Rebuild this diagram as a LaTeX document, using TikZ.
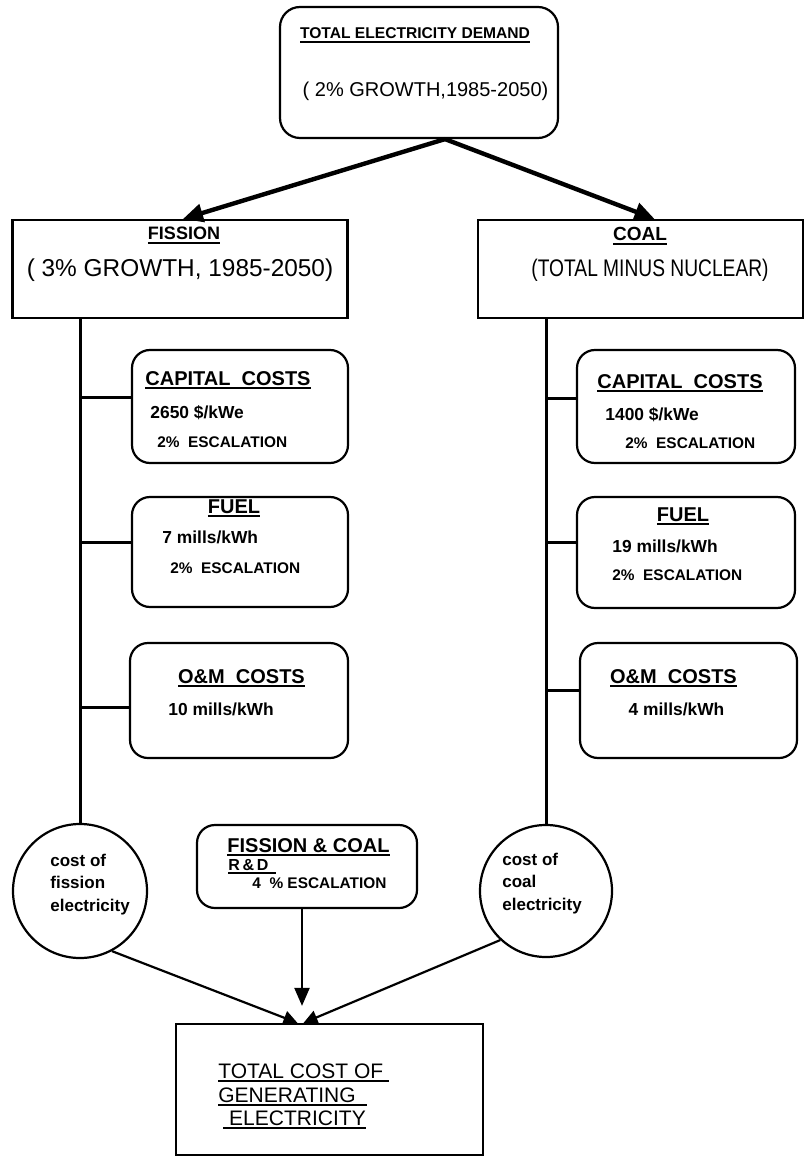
\documentclass[tikz,border=0pt]{standalone}
\usepackage{fontspec}
\setmainfont{Liberation Sans}
\newfontfamily\narrowfont[FakeStretch=0.8]{Liberation Sans}
\usetikzlibrary{arrows.meta}
\newsavebox\ulbox
\newcommand{\ulin}[1]{\sbox\ulbox{#1}\rlap{\rule[-1.8pt]{\wd\ulbox}{0.85pt}}\usebox\ulbox}
\newcommand{\fsz}[1]{\fontsize{#1}{#1}\selectfont}
\begin{document}
\begin{tikzpicture}[x=0.5pt,y=-0.5pt,
  rbox/.style={draw, line width=1.1pt, rounded corners=9pt, inner sep=0pt},
  sqbox/.style={draw, line width=1.1pt, inner sep=0pt},
  circ/.style={draw, line width=1.1pt, circle, inner sep=0pt, minimum size=67pt},
  txt/.style={inner sep=0pt, anchor=base west},
  ctxt/.style={inner sep=0pt, anchor=base},
  hd/.style={font=\fsz{10pt}\bfseries},
  val/.style={font=\fsz{8.7pt}\bfseries},
  esc/.style={font=\fsz{7.7pt}\bfseries},
  ctx/.style={font=\fsz{8.5pt}\bfseries},
  trunk/.style={line width=1.5pt},
  bigarr/.style={line width=2.2pt, -{Triangle[length=10pt,width=9pt]}},
  arr/.style={line width=1.1pt, -{Triangle[length=7pt,width=7pt]}},
]
\useasboundingbox (0,0) rectangle (805,1160);

% boxes
\node[rbox, rounded corners=10pt, minimum width=139pt, minimum height=65.5pt] (top) at (419,72.5) {};
\node[sqbox, minimum width=167.5pt, minimum height=49pt] (fis) at (180,269) {};
\node[sqbox, minimum width=162.5pt, minimum height=49pt] (coal) at (640.5,269) {};
\node[rbox, minimum width=108pt, minimum height=56.5pt] (capF) at (240,406.5) {};
\node[rbox, minimum width=108pt, minimum height=55pt] (fuelF) at (240,552) {};
\node[rbox, minimum width=109pt, minimum height=57.5pt] (omF) at (239,700.5) {};
\node[rbox, minimum width=109pt, minimum height=56.5pt] (capC) at (686,406.5) {};
\node[rbox, minimum width=109pt, minimum height=55.5pt] (fuelC) at (686,552.5) {};
\node[rbox, minimum width=108.5pt, minimum height=57.5pt] (omC) at (688.5,700.5) {};
\node[circ] (cirF) at (80,891) {};
\node[circ, minimum size=66pt] (cirC) at (546,891) {};
\node[rbox, minimum width=110pt, minimum height=41.5pt] (rd) at (307,866.5) {};
\node[sqbox, minimum width=153.5pt, minimum height=65.5pt] (tot) at (329.5,1089.5) {};

% top arrows
\coordinate (apex) at ([xshift=13pt]top.south);
\draw[bigarr] (apex) -- ([xshift=1.5pt]fis.north);
\draw[bigarr] (apex) -- ([xshift=7pt]coal.north);

% trunks
\draw[trunk] (fis.south -| cirF.north) -- (cirF.north);
\draw[trunk] (coal.south -| cirC.north) -- (cirC.north);

% branches
\coordinate (bF1) at ([yshift=4.75pt]capF.west);
\coordinate (bF2) at ([yshift=5pt]fuelF.west);
\coordinate (bF3) at ([yshift=-3.25pt]omF.west);
\coordinate (bC1) at ([yshift=4.25pt]capC.west);
\coordinate (bC2) at ([yshift=5.25pt]fuelC.west);
\coordinate (bC3) at ([yshift=5.25pt]omC.west);
\draw[trunk] (bF1 -| cirF.north) -- (bF1);
\draw[trunk] (bF2 -| cirF.north) -- (bF2);
\draw[trunk] (bF3 -| cirF.north) -- (bF3);
\draw[trunk] (bC1 -| cirC.north) -- (bC1);
\draw[trunk] (bC2 -| cirC.north) -- (bC2);
\draw[trunk] (bC3 -| cirC.north) -- (bC3);

% bottom arrows
\coordinate (tL) at ([xshift=-16pt]tot.north);
\coordinate (tR) at ([xshift=-13pt]tot.north);
\draw[arr] (cirF.-62) -- (tL);
\draw[arr] (cirC.-133) -- (tR);
\coordinate (rdb) at ([xshift=-2.5pt]rd.south);
\draw[line width=1.1pt, -{Triangle[length=9pt,width=7.5pt]}, shorten >=8.5pt] (rdb) -- (rdb |- tot.north);

% texts: top
\node[ctxt] (t1) at (415,39) {\fsz{7.8pt}\bfseries\ulin{TOTAL ELECTRICITY DEMAND}};
\node[ctxt] (t2) at (425.5,97) {\fsz{10pt}( 2\% GROWTH,1985-2050)};
% fission / coal
\node[ctxt] (f1) at (184,240) {\fsz{9pt}\bfseries\ulin{FISSION}};
\node[ctxt] (f2) at (180,277) {\fsz{12.2pt}( 3\% GROWTH, 1985-2050)};
\node[ctxt] (c1) at (640,241) {\fsz{9.5pt}\bfseries\ulin{COAL}};
\node[ctxt] (c2) at (650,277) {\fsz{12pt}\narrowfont (TOTAL MINUS NUCLEAR)};
% fission side
\node[txt, hd] (cf1) at (145,385) {\ulin{CAPITAL\ \ COSTS}};
\node[txt, val] (cf2) at (150,418) {2650 \$/kWe};
\node[txt, esc] (cf3) at (157,447) {2\%\ \ ESCALATION};
\node[ctxt, hd] (ff1) at (234,513) {\ulin{FUEL}};
\node[txt, val] (ff2) at (162,543) {7 mills/kWh};
\node[txt, esc] (ff3) at (170,573) {2\%\ \ ESCALATION};
\node[ctxt, hd] (of1) at (241.5,683) {\ulin{O\&M\ \ COSTS}};
\node[txt, val] (of2) at (168,715) {10 mills/kWh};
% coal side
\node[txt, hd] (cc1) at (597,388) {\ulin{CAPITAL\ \ COSTS}};
\node[txt, val] (cc2) at (605,420) {1400 \$/kWe};
\node[txt, esc] (cc3) at (625,448) {2\%\ \ ESCALATION};
\node[ctxt, hd] (fc1) at (683,521) {\ulin{FUEL}};
\node[txt, val] (fc2) at (612,552) {19 mills/kWh};
\node[txt, esc] (fc3) at (612,580) {2\%\ \ ESCALATION};
\node[ctxt, hd] (oc1) at (673.5,683) {\ulin{O\&M\ \ COSTS}};
\node[ctxt, val] (oc2) at (676.5,715) {4 mills/kWh};
% R&D
\node[txt, hd] (r1) at (227,852) {\ulin{FISSION \& COAL}};
\node[txt, font=\fsz{8pt}\bfseries] (r2) at (228,870) {\ulin{R\,\&\,D\hspace{4pt}}};
\node[txt, esc] (r3) at (252,888) {4\ \ \% ESCALATION};
% circles
\node[txt, ctx] (cF1) at (50,866) {cost of};
\node[txt, ctx] (cF2) at (50,888) {fission};
\node[txt, ctx] (cF3) at (50,911) {electricity};
\node[txt, ctx] (cC1) at (502,865) {cost of};
\node[txt, ctx] (cC2) at (502,887) {coal};
\node[txt, ctx] (cC3) at (502,910) {electricity};
% total
\node[txt, font=\fsz{10.5pt}] (T1) at (218,1078) {\ulin{TOTAL COST OF\ }};
\node[txt, font=\fsz{10.5pt}] (T2) at (218,1102) {\ulin{GENERATING\ \ }};
\node[txt, font=\fsz{10.5pt}] (T3) at (223,1125) {\ulin{\ ELECTRICITY}};
\end{tikzpicture}
\end{document}
